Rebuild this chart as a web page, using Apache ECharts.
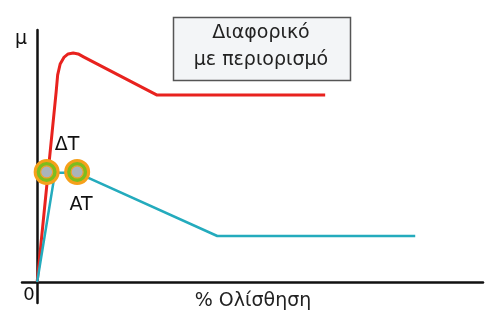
<!DOCTYPE html>
<html><head><meta charset="utf-8">
<script src="https://cdn.jsdelivr.net/npm/echarts@6/dist/echarts.min.js"></script>
<style>html,body{margin:0;padding:0;background:#fff}#c{width:489px;height:322px}</style>
</head><body><div id="c"></div>
<script>
// Data (slip %, friction coefficient μ in arbitrary units)
const redSlip = [0, 4.26, 4.6, 5.16, 6.06, 6.95, 8.08, 9.2, 10.5, 26.9, 64.6];
const redMu   = [0, 0.905, 0.986, 1.038, 1.071, 1.086, 1.090, 1.086, 1.071, 0.890, 0.890];
const cyanSlip = [0, 4.0, 9.0, 40.4, 84.8];
const cyanMu   = [0, 0.52, 0.52, 0.219, 0.219];
const markerSlip = [2.13, 8.97];
const markerMu = [0.524, 0.524];
const markerLabels = ['ΔT', 'AT'];
const axisLabelY = 'μ';
const axisLabelOrigin = '0';
const axisLabelX = '% Ολίσθηση';
const boxLines = ['Διαφορικό', 'με περιορισμό'];

const zip = (a, b) => a.map((v, i) => [v, b[i]]);
const chart = echarts.init(document.getElementById('c'), null, {renderer: 'canvas'});
const font = '"DejaVu Sans", sans-serif';
chart.setOption({
  animation: false,
  grid: {left: 22, right: 6, top: 30, bottom: 19},
  xAxis: {type: 'value', min: -3.4, max: 100, splitLine: {show: false},
    axisLine: {onZero: true, lineStyle: {color: '#111', width: 2.5}},
    axisTick: {show: false}, axisLabel: {show: false}},
  yAxis: {type: 'value', min: -0.1, max: 1.2, splitLine: {show: false},
    axisLine: {show: true, onZero: true, lineStyle: {color: '#111', width: 2.5}},
    axisTick: {show: false}, axisLabel: {show: false}},
  series: [
    {type: 'line', data: zip(redSlip, redMu), symbol: 'none', smooth: false,
      lineStyle: {color: '#e8221e', width: 3, join: 'round'}, z: 3},
    {type: 'line', data: zip(cyanSlip, cyanMu), symbol: 'none',
      lineStyle: {color: '#24abbd', width: 2.5}, z: 3},
    {type: 'scatter', data: zip(markerSlip, markerMu), symbolSize: 23,
      itemStyle: {color: '#7dbd1e', borderColor: '#f6a01a', borderWidth: 3, opacity: 1}, z: 5},
    {type: 'scatter', data: zip(markerSlip, markerMu), symbolSize: 12,
      itemStyle: {color: '#aab4bd', borderColor: '#f0a030', borderWidth: 1.2, opacity: 1}, z: 6}
  ],
  graphic: [
    {type: 'rect', shape: {x: 173.5, y: 17.5, width: 177, height: 63},
      style: {fill: '#f3f5f7', stroke: '#555', lineWidth: 1.5}},
    {type: 'text', x: 261, y: 33, style: {text: boxLines[0], font: '19px ' + font, fill: '#222', align: 'center', verticalAlign: 'middle'}},
    {type: 'text', x: 261, y: 60, style: {text: boxLines[1], font: '19px ' + font, fill: '#222', align: 'center', verticalAlign: 'middle'}},
    {type: 'text', x: 21, y: 39, style: {text: axisLabelY, font: '19px ' + font, fill: '#111', align: 'center', verticalAlign: 'middle'}},
    {type: 'text', x: 29, y: 295, style: {text: axisLabelOrigin, font: '18px ' + font, fill: '#111', align: 'center', verticalAlign: 'middle'}},
    {type: 'text', x: 253, y: 301, style: {text: axisLabelX, font: '19px ' + font, fill: '#222', align: 'center', verticalAlign: 'middle'}},
    {type: 'text', x: 67, y: 145, style: {text: markerLabels[0], font: '19px ' + font, fill: '#111', align: 'center', verticalAlign: 'middle'}},
    {type: 'text', x: 81, y: 205, style: {text: markerLabels[1], font: '19px ' + font, fill: '#111', align: 'center', verticalAlign: 'middle'}}
  ]
});
</script></body></html>
